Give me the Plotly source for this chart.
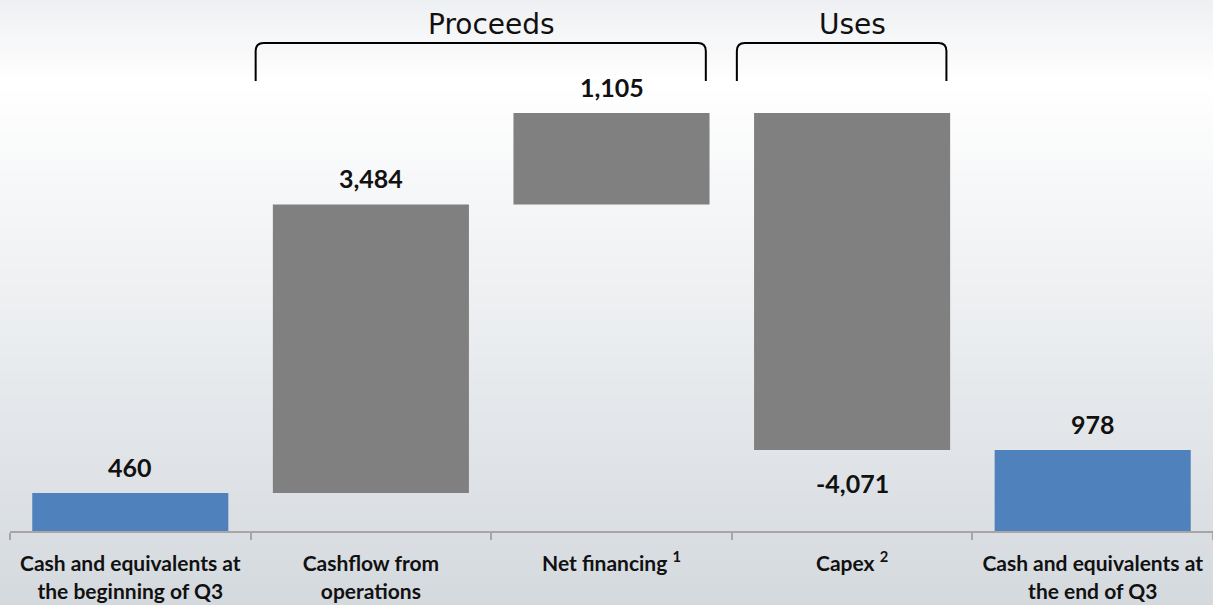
import plotly.graph_objects as go

# data
categories = [
    "Cash and equivalents at<br>the beginning of Q3",
    "Cashflow from<br>operations",
    "Net financing <sup>1</sup>",
    "Capex <sup>2</sup>",
    "Cash and equivalents at<br>the end of Q3",
]
measures = ["absolute", "relative", "relative", "relative", "total"]
values = [460, 3484, 1105, -4071, 978]
groups = [("Proceeds", 1, 2), ("Uses", 3, 3)]

BLUE = "#4f81bd"
GREY = "#808080"
W, H = 1213, 605
M_L, M_R, M_T, M_B = 10, 0, 0, 74
PLOT_H = H - M_T - M_B
Y_MAX = 6414


def py2paper(py):
    return (H - M_B - py) / PLOT_H


def mix(c1, c2, t):
    a = [int(c1[i:i + 2], 16) for i in (1, 3, 5)]
    b = [int(c2[i:i + 2], 16) for i in (1, 3, 5)]
    return "rgb(%d,%d,%d)" % tuple(round(a[k] + (b[k] - a[k]) * t) for k in range(3))


fig = go.Figure(go.Waterfall(
    x=categories,
    y=values,
    measure=measures,
    width=0.815,
    totals=dict(marker=dict(color=BLUE)),
    increasing=dict(marker=dict(color=GREY)),
    decreasing=dict(marker=dict(color=GREY)),
    connector=dict(visible=False),
    hoverinfo="skip",
))

# background gradient (white -> light grey)
shapes = []
step = 5
for py in range(0, H, step):
    if py < 80:
        col = mix("#eff0f3", "#ffffff", py / 80)
    else:
        col = mix("#ffffff", "#d4d9de", (py - 80) / (H - 80))
    shapes.append(dict(type="rect", xref="paper", yref="paper", layer="below",
                       x0=-0.02, x1=1.02, y0=py2paper(py + step + 1), y1=py2paper(py),
                       fillcolor=col, line=dict(width=0)))

# value labels
annotations = []
running = 0
for i, (m, v) in enumerate(zip(measures, values)):
    if m == "absolute":
        lo, hi = 0, v
        running = v
    elif m == "total":
        lo, hi = 0, running
        v = running
    else:
        lo, hi = sorted([running, running + v])
        running += v
    if v >= 0:
        annotations.append(dict(x=i, y=hi, text=f"<b>{v:,}</b>", showarrow=False,
                                yanchor="bottom", yshift=9,
                                font=dict(family="Lato", size=25, color="#111")))
    else:
        annotations.append(dict(x=i, y=lo, text=f"<b>{v:,}</b>", showarrow=False,
                                yanchor="top", yshift=-16,
                                font=dict(family="Lato", size=25, color="#111")))

# group brackets
yt, yb = py2paper(43), py2paper(81)
rx, ry = 8 / 240.6, 8 / PLOT_H
for name, a, b in groups:
    x0, x1 = a - 0.479, b + 0.392
    path = (f"M {x0},{yb} L {x0},{yt - ry} Q {x0},{yt} {x0 + rx},{yt} "
            f"L {x1 - rx},{yt} Q {x1},{yt} {x1},{yt - ry} L {x1},{yb}")
    shapes.append(dict(type="path", xref="x", yref="paper", path=path,
                       line=dict(color="#000", width=2)))
    annotations.append(dict(x=(a + b) / 2 if name == "Uses" else 1.5, y=py2paper(24),
                            xref="x", yref="paper", text=name, showarrow=False,
                            yanchor="middle",
                            font=dict(family="DejaVu Sans", size=28, color="#111")))

fig.update_layout(
    width=W, height=H,
    margin=dict(l=M_L, r=M_R, t=M_T, b=M_B),
    paper_bgcolor="#ffffff", plot_bgcolor="rgba(0,0,0,0)",
    showlegend=False,
    shapes=shapes,
    annotations=annotations,
    xaxis=dict(type="category", tickson="boundaries", ticks="outside", ticklen=7,
               tickcolor="#a6a6a6", tickwidth=2, showline=True, linecolor="#a6a6a6",
               linewidth=2, showgrid=False, ticklabelstandoff=13,
               ticktext=[f"<b>{c}</b>" for c in categories], tickvals=categories,
               tickfont=dict(family="Lato", size=21, color="#111")),
    yaxis=dict(range=[0, Y_MAX], visible=False),
)

fig.write_html("out.html", config={"displayModeBar": False},
               post_script="document.body.style.margin='0';")
